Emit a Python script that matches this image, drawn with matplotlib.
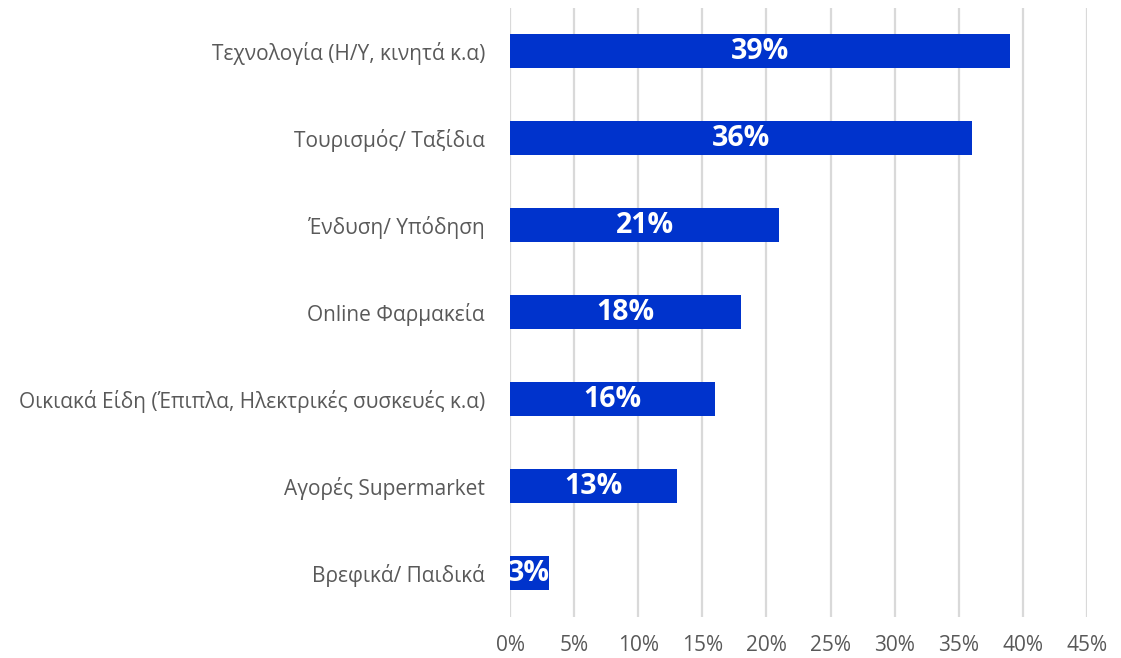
import matplotlib
matplotlib.use("Agg")
import matplotlib.pyplot as plt
from matplotlib.ticker import FuncFormatter

# ── Data ──────────────────────────────────────────────────────────────────────
categories = [
    "Τεχνολογία (Η/Υ, κινητά κ.α)",
    "Τουρισμός/ Ταξίδια",
    "Ένδυση/ Υπόδηση",
    "Online Φαρμακεία",
    "Οικιακά Είδη (Έπιπλα, Ηλεκτρικές συσκευές κ.α)",
    "Αγορές Supermarket",
    "Βρεφικά/ Παιδικά",
]
values = [39, 36, 21, 18, 16, 13, 3]
x_ticks = [0, 5, 10, 15, 20, 25, 30, 35, 40, 45]

BLUE = "#0033CC"
GREY = "#595959"
GRID = "#D9D9D9"

plt.rcParams["font.family"] = ["Open Sans", "DejaVu Sans"]

fig = plt.figure(figsize=(11.21, 6.58), dpi=100)
ax = fig.add_axes([0.455, 0.063, 0.5147, 0.9256])

ypos = list(range(len(categories)))
bars = ax.barh(ypos, values, height=0.39, color=BLUE, zorder=3)

for bar, v in zip(bars, values):
    t = ax.text(v / 2, bar.get_y() + bar.get_height() / 2, f"{v}%",
                ha="center", va="center", color="white",
                fontsize=20.5, fontweight="bold", zorder=4)
    t.set_clip_path(bar)

ax.set_xlim(0, 45)
ax.set_ylim(len(categories) - 0.5, -0.5)
ax.set_xticks(x_ticks)
ax.xaxis.set_major_formatter(FuncFormatter(lambda x, _: f"{x:.0f}%"))
ax.set_yticks(ypos)
ax.set_yticklabels(categories)
ax.tick_params(axis="both", length=0, colors=GREY, labelsize=15)
ax.tick_params(axis="x", pad=13)
ax.tick_params(axis="y", pad=18)

ax.grid(axis="x", color=GRID, linewidth=1.6, zorder=0)
for s in ax.spines.values():
    s.set_visible(False)

fig.savefig("out.png", dpi=100, facecolor="white")
